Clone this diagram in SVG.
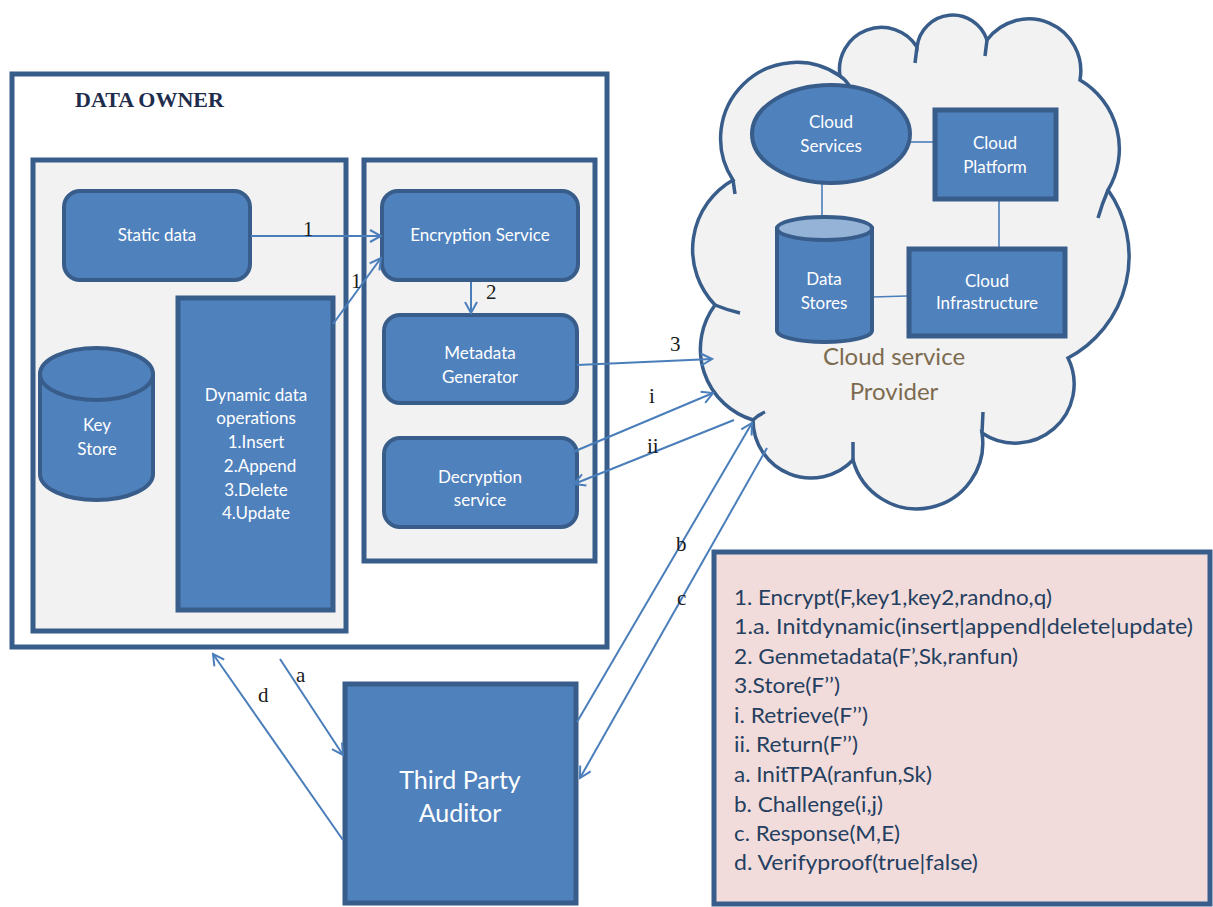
<svg xmlns="http://www.w3.org/2000/svg" width="1213" height="907" viewBox="0 0 1213 907">
<style>
.box{fill:#4f81bd;stroke:#385d8a;stroke-width:4}
.thick{fill:#4f81bd;stroke:#385d8a;stroke-width:5}
.frame{fill:none;stroke:#385d8a;stroke-width:5}
.panel{fill:#f2f2f2;stroke:#385d8a;stroke-width:5}
.nt{font-family:Lato,"Open Sans",sans-serif;font-size:17px;fill:#ffffff;text-anchor:middle}
.lbl{font-family:"Liberation Serif",serif;font-size:21px;fill:#1a1a1a}
.conn{fill:none;stroke:#4a7ebb;stroke-width:2;marker-end:url(#arr)}
.line{fill:none;stroke:#4a7ebb;stroke-width:1.6}
.leg{font-family:Lato,"Open Sans",sans-serif;font-size:21px;fill:#243f60}
</style>
<defs>
<marker id="arr" viewBox="0 0 14 14" refX="12" refY="7" markerWidth="14" markerHeight="14" markerUnits="userSpaceOnUse" orient="auto">
<path d="M1,1 L12,7 L1,13" fill="none" stroke="#4a7ebb" stroke-width="2"/>
</marker>
</defs>
<rect width="1213" height="907" fill="#ffffff"/>

<g id="cloud">
<path d="M733,180 A76,76 0 0 1 840,76 A42,42 0 0 1 917,47 A36,36 0 0 1 987,40 A52,52 0 0 1 1080,80 A80,80 0 0 1 1108,190 A115,115 0 0 1 1068,358 A59,59 0 0 1 982,433 A66,66 0 0 1 853,460 A58,58 0 0 1 753,420 A74,74 0 0 1 715,305 A80,80 0 0 1 733,180 Z" fill="#f2f2f2" stroke="#385d8a" stroke-width="3.5"/>
<path d="M733,180 L735,194 M840,76 Q846,80 850,87 M917,47 L915,63 M987,40 L985,56 M1108,190 Q1102,204 1098,218 M982,433 L983,412 M853,460 L853,442 M753,420 Q758,415 765,412 M715,305 Q727,310 740,313" fill="none" stroke="#385d8a" stroke-width="3.5"/>
<text x="894" y="365" font-family="Lato,'Open Sans',sans-serif" font-size="24" fill="#7d6b50" text-anchor="middle">Cloud service</text>
<text x="894" y="400" font-family="Lato,'Open Sans',sans-serif" font-size="24" fill="#7d6b50" text-anchor="middle">Provider</text>
</g>

<g id="cloud-links">
<line class="line" x1="910" y1="142" x2="933" y2="142"/>
<line class="line" x1="822" y1="183" x2="822" y2="262"/>
<line class="line" x1="999" y1="200" x2="999" y2="247"/>
<line class="line" x1="872" y1="297" x2="907" y2="296"/>
</g>

<g id="cloud-services">
<ellipse cx="831" cy="134" rx="79" ry="49" class="box"/>
<text class="nt" x="831" y="128">Cloud</text>
<text class="nt" x="831" y="152">Services</text>
</g>
<g id="cloud-platform">
<rect x="935" y="110" width="121" height="89" class="thick"/>
<text class="nt" x="995" y="149">Cloud</text>
<text class="nt" x="995" y="173">Platform</text>
</g>
<g id="data-stores">
<path d="M777,228.5 L777,330.5 A47.5,11.5 0 0 0 872,330.5 L872,228.5 Z" class="box"/>
<ellipse cx="824.5" cy="228.5" rx="47.5" ry="11.5" fill="#95b3d7" stroke="#385d8a" stroke-width="4"/>
<text class="nt" x="824" y="285">Data</text>
<text class="nt" x="824" y="309">Stores</text>
</g>
<g id="cloud-infrastructure">
<rect x="909" y="249" width="156" height="87" class="thick"/>
<text class="nt" x="987" y="287">Cloud</text>
<text class="nt" x="987" y="309">Infrastructure</text>
</g>

<g id="data-owner">
<rect x="12" y="74" width="595" height="573" class="frame"/>
<text x="75" y="107" font-family="'Liberation Serif',serif" font-size="22" font-weight="bold" fill="#1f2d4d">DATA OWNER</text>
</g>
<g id="owner-left-panel">
<rect x="33" y="160" width="313" height="471" class="panel"/>
</g>
<g id="owner-right-panel">
<rect x="364" y="160" width="231" height="401" class="panel"/>
</g>

<g id="static-data">
<rect x="64" y="191" width="186" height="89" rx="16" class="box"/>
<text class="nt" x="157" y="241">Static data</text>
</g>
<g id="encryption-service">
<rect x="382" y="191" width="196" height="89" rx="16" class="box"/>
<text class="nt" x="480" y="241">Encryption Service</text>
</g>
<g id="metadata-generator">
<rect x="384" y="315" width="193" height="88" rx="16" class="box"/>
<text class="nt" x="480" y="359">Metadata</text>
<text class="nt" x="480" y="383">Generator</text>
</g>
<g id="decryption-service">
<rect x="384" y="438" width="193" height="89" rx="16" class="box"/>
<text class="nt" x="480" y="483">Decryption</text>
<text class="nt" x="480" y="506">service</text>
</g>
<g id="key-store">
<path d="M40,374 L40,474 A56.5,26 0 0 0 153,474 L153,374 Z" class="box"/>
<ellipse cx="96.5" cy="374" rx="56.5" ry="26" class="box"/>
<text class="nt" x="97" y="431">Key</text>
<text class="nt" x="97" y="455">Store</text>
</g>
<g id="dynamic-data">
<rect x="178" y="298" width="155" height="312" class="thick"/>
<text class="nt" x="256" y="401">Dynamic data</text>
<text class="nt" x="256" y="424">operations</text>
<text class="nt" x="256" y="448">1.Insert</text>
<text class="nt" x="260" y="472">2.Append</text>
<text class="nt" x="256" y="496">3.Delete</text>
<text class="nt" x="256" y="519">4.Update</text>
</g>
<g id="third-party-auditor">
<rect x="345" y="684" width="231" height="219" class="thick"/>
<text x="460" y="789" font-family="Lato,'Open Sans',sans-serif" font-size="25" fill="#ffffff" text-anchor="middle">Third Party</text>
<text x="460" y="822" font-family="Lato,'Open Sans',sans-serif" font-size="25" fill="#ffffff" text-anchor="middle">Auditor</text>
</g>

<g id="connectors">
<line class="conn" x1="251" y1="236" x2="381" y2="236"/>
<line class="conn" x1="333" y1="324" x2="381" y2="258"/>
<line class="conn" x1="471" y1="282" x2="471" y2="313"/>
<line class="conn" x1="577" y1="365" x2="712" y2="359"/>
<line class="conn" x1="573" y1="452" x2="713" y2="393"/>
<line class="conn" x1="734" y1="420" x2="574" y2="484"/>
<line class="conn" x1="577" y1="722" x2="752" y2="423"/>
<line class="conn" x1="767" y1="448" x2="580" y2="778"/>
<line class="conn" x1="280" y1="659" x2="343" y2="755"/>
<line class="conn" x1="343" y1="840" x2="213" y2="654"/>
<text class="lbl" x="303" y="236">1</text>
<text class="lbl" x="351" y="288">1</text>
<text class="lbl" x="486" y="299">2</text>
<text class="lbl" x="670" y="351">3</text>
<text class="lbl" x="649" y="403">i</text>
<text class="lbl" x="647" y="453">ii</text>
<text class="lbl" x="676" y="551">b</text>
<text class="lbl" x="677" y="605">c</text>
<text class="lbl" x="296" y="682">a</text>
<text class="lbl" x="258" y="702">d</text>
</g>

<g id="legend">
<rect x="714" y="552" width="496" height="352" fill="#f2dcdb" stroke="#385d8a" stroke-width="5"/>
<text class="leg" x="734" y="605" textLength="318" lengthAdjust="spacingAndGlyphs">1. Encrypt(F,key1,key2,randno,q)</text>
<text class="leg" x="734" y="634" textLength="459" lengthAdjust="spacingAndGlyphs">1.a. Initdynamic(insert|append|delete|update)</text>
<text class="leg" x="734" y="664" textLength="284" lengthAdjust="spacingAndGlyphs">2. Genmetadata(F’,Sk,ranfun)</text>
<text class="leg" x="734" y="693" textLength="106" lengthAdjust="spacingAndGlyphs">3.Store(F’’)</text>
<text class="leg" x="734" y="723" textLength="134" lengthAdjust="spacingAndGlyphs">i. Retrieve(F’’)</text>
<text class="leg" x="734" y="752" textLength="124" lengthAdjust="spacingAndGlyphs">ii. Return(F’’)</text>
<text class="leg" x="734" y="782" textLength="198" lengthAdjust="spacingAndGlyphs">a. InitTPA(ranfun,Sk)</text>
<text class="leg" x="734" y="812" textLength="149" lengthAdjust="spacingAndGlyphs">b. Challenge(i,j)</text>
<text class="leg" x="734" y="841" textLength="166" lengthAdjust="spacingAndGlyphs">c. Response(M,E)</text>
<text class="leg" x="734" y="870" textLength="244" lengthAdjust="spacingAndGlyphs">d. Verifyproof(true|false)</text>
</g>
</svg>
